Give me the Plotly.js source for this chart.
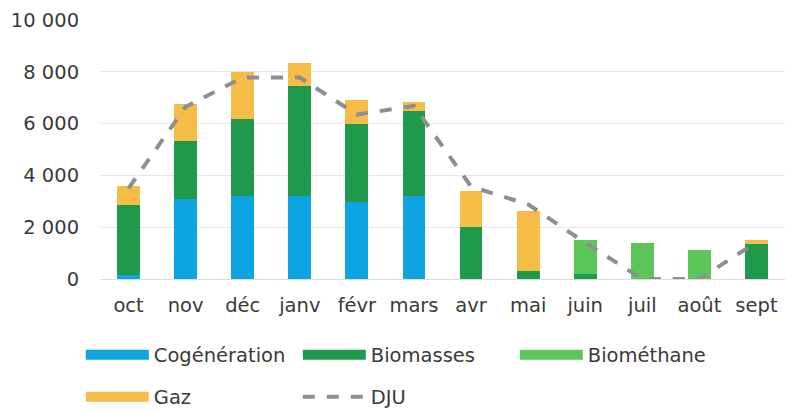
<!DOCTYPE html>
<html>
<head>
<meta charset="utf-8">
<script src="https://cdn.plot.ly/plotly-3.0.1.min.js"></script>
<style>
  html, body { margin: 0; padding: 0; background: #fff; }
  #chart { width: 800px; height: 411px; }
</style>
</head>
<body>
<div id="chart"></div>
<script>
var months = ["oct", "nov", "déc", "janv", "févr", "mars", "avr", "mai", "juin", "juil", "août", "sept"];
var cogeneration = [150, 3070, 3190, 3190, 2960, 3200, 0, 0, 0, 0, 0, 0];
var biomasses = [2700, 2260, 2970, 4260, 3020, 3300, 2000, 320, 190, 0, 0, 1335];
var biomethane = [0, 0, 0, 0, 0, 0, 0, 0, 1320, 1395, 1135, 0];
var gaz = [730, 1420, 1840, 880, 940, 330, 1390, 2320, 0, 0, 0, 155];
var dju = [3500, 6650, 7780, 7780, 6350, 6680, 3570, 2880, 1400, 0, 0, 1420];
var yTicks = [0, 2000, 4000, 6000, 8000, 10000];
var yTickText = ["0", "2 000", "4 000", "6 000", "8 000", "10 000"];

var font = "DejaVu Sans, sans-serif";
var textColor = "#3a3a3a";
var colors = {
  "Cogénération": "#0ea4e2",
  "Biomasses": "#1f9a4c",
  "Biométhane": "#5cc65a",
  "Gaz": "#f5bd48"
};

function barTrace(name, values) {
  return {
    x: months, y: values, name: name, type: "bar",
    marker: {color: colors[name]}, legendgroup: name, showlegend: false,
    hoverinfo: "x+y+name"
  };
}

// wide swatch legend entries (no data drawn)
function keyTrace(name, legend) {
  return {
    x: [null], y: [null], name: name, type: "scatter", mode: "lines",
    line: {color: colors[name], width: 11}, legendgroup: name, legend: legend,
    hoverinfo: "skip"
  };
}

var data = [
  barTrace("Cogénération", cogeneration),
  barTrace("Biomasses", biomasses),
  barTrace("Biométhane", biomethane),
  barTrace("Gaz", gaz),
  keyTrace("Cogénération", "legend"),
  keyTrace("Biomasses", "legend"),
  keyTrace("Biométhane", "legend"),
  keyTrace("Gaz", "legend2"),
  {
    x: months, y: dju, name: "DJU", type: "scatter", mode: "lines",
    line: {color: "#8e8e8e", width: 4, dash: "dash"},
    legend: "legend2"
  }
];

var legendBase = {
  orientation: "h",
  traceorder: "normal",
  xref: "container", yref: "container",
  xanchor: "left", yanchor: "middle",
  x: 0.101,
  font: {family: font, size: 19.5, color: textColor},
  itemwidth: 63,
  entrywidth: 139,
  entrywidthmode: "pixels",
  bgcolor: "rgba(0,0,0,0)"
};

var layout = {
  width: 800, height: 411,
  margin: {l: 100, r: 15, t: 20, b: 132},
  paper_bgcolor: "#fff", plot_bgcolor: "#fff",
  barmode: "stack",
  bargap: 0.6,
  font: {family: font, size: 19.5, color: textColor},
  xaxis: {
    type: "category",
    showgrid: false, zeroline: false, showline: false,
    ticks: "outside", ticklen: 9, tickcolor: "rgba(0,0,0,0)",
    tickfont: {family: font, size: 19.5, color: textColor}
  },
  yaxis: {
    range: [0, 10000],
    tickvals: yTicks, ticktext: yTickText,
    showgrid: true, gridcolor: "#e6e6e6", gridwidth: 1,
    zeroline: true, zerolinecolor: "#dcdcdc", zerolinewidth: 1,
    showline: false,
    ticks: "outside", ticklen: 16, tickcolor: "rgba(0,0,0,0)",
    tickfont: {family: font, size: 19.5, color: textColor}
  },
  legend: Object.assign({}, legendBase, {y: 1 - 355 / 411}),
  legend2: Object.assign({}, legendBase, {y: 1 - 397 / 411}),
  showlegend: true
};

Plotly.newPlot("chart", data, layout, {displayModeBar: false, responsive: false});
</script>
</body>
</html>
